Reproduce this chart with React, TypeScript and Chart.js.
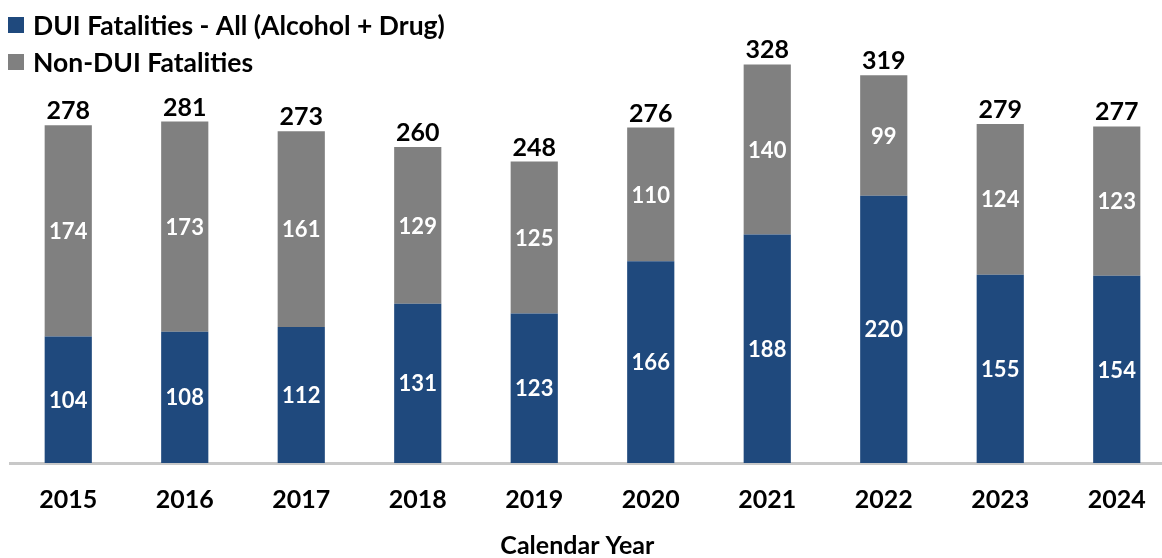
import React, { useEffect, useRef } from "react";
import { Chart, registerables } from "chart.js";

Chart.register(...registerables);

const categories = ["2015", "2016", "2017", "2018", "2019", "2020", "2021", "2022", "2023", "2024"];
const duiValues = [104, 108, 112, 131, 123, 166, 188, 220, 155, 154];
const nonDuiValues = [174, 173, 161, 129, 125, 110, 140, 99, 124, 123];
const totalValues = [278, 281, 273, 260, 248, 276, 328, 319, 279, 277];
const seriesNames = ["DUI Fatalities - All (Alcohol + Drug)", "Non-DUI Fatalities"];
const axisTitle = "Calendar Year";

const BLUE = "#1f497d";
const GRAY = "#808080";
const FONT = "Lato";

const labelPlugin = {
  id: "labels",
  afterDatasetsDraw(chart: any) {
    const ctx = chart.ctx;
    ctx.save();
    ctx.textAlign = "center";
    ctx.textBaseline = "middle";
    chart.data.datasets.forEach((ds: any, di: number) => {
      const meta = chart.getDatasetMeta(di);
      meta.data.forEach((bar: any, i: number) => {
        const top = bar.y;
        const bottom = bar.base;
        ctx.fillStyle = "#ffffff";
        ctx.font = `bold 22px ${FONT}`;
        ctx.fillText(String(ds.data[i]), bar.x, (top + bottom) / 2 + 1);
        if (di === chart.data.datasets.length - 1) {
          ctx.fillStyle = "#000000";
          ctx.font = `bold 25px ${FONT}`;
          ctx.textBaseline = "alphabetic";
          ctx.fillText(String(totalValues[i]), bar.x, top - 6);
          ctx.textBaseline = "middle";
        }
      });
    });
    // legend
    const colors = [BLUE, GRAY];
    ctx.textAlign = "left";
    ctx.font = `bold 26.5px ${FONT}`;
    seriesNames.forEach((name, i) => {
      const cy = 25 + i * 37;
      ctx.fillStyle = colors[i];
      ctx.fillRect(8, cy - 8, 16, 16);
      ctx.fillStyle = "#000000";
      ctx.fillText(name, 33, cy + 1);
    });
    ctx.restore();
  },
};

export default function App() {
  const ref = useRef<HTMLCanvasElement>(null);
  useEffect(() => {
    if (!ref.current) return;
    const chart = new Chart(ref.current, {
      type: "bar",
      data: {
        labels: categories,
        datasets: [
          { label: seriesNames[0], data: duiValues, backgroundColor: BLUE, categoryPercentage: 0.405, barPercentage: 1 },
          { label: seriesNames[1], data: nonDuiValues, backgroundColor: GRAY, categoryPercentage: 0.405, barPercentage: 1 },
        ],
      },
      options: {
        animation: false,
        responsive: false,
        layout: { padding: { left: 10, right: 1, top: 0, bottom: 2 } },
        plugins: { legend: { display: false }, tooltip: { enabled: false } },
        scales: {
          x: {
            stacked: true,
            grid: { display: false },
            border: { display: true, color: "#c8c8c8", width: 3 },
            ticks: { color: "#000", font: { family: FONT, size: 25, weight: "bold" }, padding: 14 },
            title: {
              display: true,
              text: axisTitle + "     ",
              color: "#000",
              font: { family: FONT, size: 25, weight: "bold" },
              padding: { top: 2, bottom: 0 },
            },
          },
          y: { stacked: true, display: false, min: 0, max: 381 },
        },
      },
      plugins: [labelPlugin],
    });
    return () => chart.destroy();
  }, []);
  return (
    <div style={{ position: "fixed", left: 0, top: 0, width: 1162, height: 558, overflow: "hidden", background: "#fff" }}>
      <canvas ref={ref} width={1176} height={563} style={{ display: "block" }} />
    </div>
  );
}
